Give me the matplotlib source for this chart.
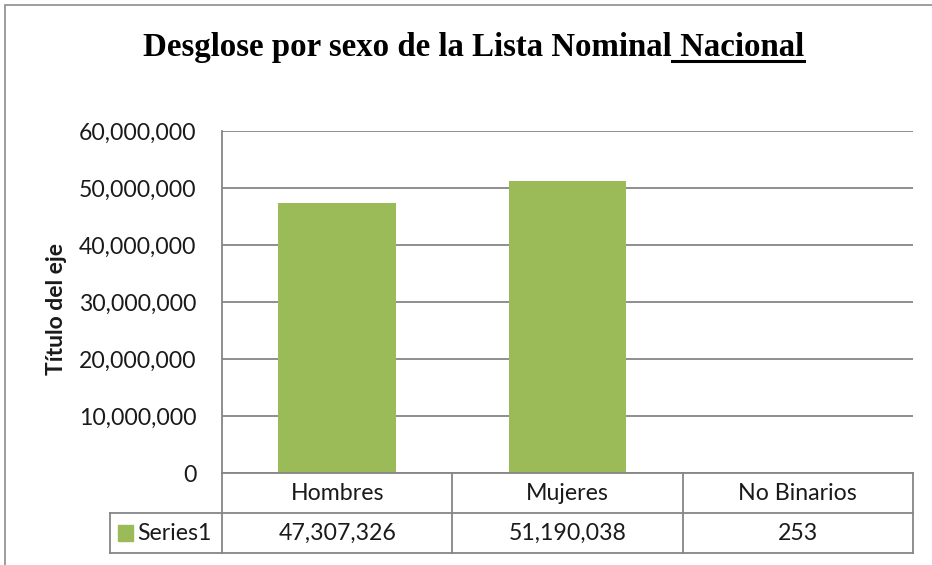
import matplotlib.pyplot as plt
from matplotlib.patches import Rectangle
from matplotlib.ticker import FuncFormatter

categories = ["Hombres", "Mujeres", "No Binarios"]
values = [47307326, 51190038, 253]
series_name = "Series1"
yticks = [0, 10000000, 20000000, 30000000, 40000000, 50000000, 60000000]

green = "#9BBB59"
grid_col = "#868686"
txt_col = "#1a1a1a"
txt_font = ["Lato", "DejaVu Sans"]

W, H = 932, 565
fig = plt.figure(figsize=(W / 100, H / 100), dpi=100)
fig.patch.set_facecolor("white")

# chart border (extends past the right/bottom of the image)
fig.add_artist(Rectangle((5 / W, -0.1), 1.2, 1 - 5 / H + 0.1, transform=fig.transFigure,
                         fill=False, edgecolor="#8c8c8c", linewidth=1.2))

left, right, top, bottom = 222, 913, 131, 473
ax = fig.add_axes([left / W, 1 - bottom / H, (right - left) / W, (bottom - top) / H])

x = list(range(len(categories)))
ax.bar(x, values, width=0.51, color=green, zorder=2)
ax.set_xlim(-0.5, len(categories) - 0.5)
ax.set_ylim(0, 60000000)
ax.set_yticks(yticks)
ax.yaxis.set_major_formatter(FuncFormatter(lambda v, p: f"{int(v):,}"))
ax.tick_params(axis="y", length=0, pad=18.5, labelsize=16.6, labelcolor=txt_col)
for lbl in ax.get_yticklabels():
    lbl.set_family(txt_font)
ax.set_xticks([])
ax.grid(axis="y", color=grid_col, linewidth=1.3, zorder=0)
for s in ["top", "right", "bottom"]:
    ax.spines[s].set_visible(False)
ax.spines["left"].set_color(grid_col)
ax.spines["left"].set_linewidth(1.3)

ax.set_ylabel("Título del eje", fontsize=16.5, fontweight="bold", family=txt_font, color=txt_col)
ax.yaxis.set_label_coords((57 - left) / (right - left), (bottom - 309) / (bottom - top))
ax.yaxis.label.set_va("center")

# data table below the plot
row_h = 40 / (bottom - top)
trans = ax.get_xaxis_transform()
lkw = dict(color=grid_col, linewidth=1.3, clip_on=False, transform=trans)
edges = [i - 0.5 for i in range(len(categories) + 1)]
key_left = edges[0] - (left - 110) / ((right - left) / len(categories))
ax.plot([edges[0], edges[-1]], [0, 0], **lkw)
ax.plot([key_left, edges[-1]], [-row_h, -row_h], **lkw)
ax.plot([key_left, edges[-1]], [-2 * row_h, -2 * row_h], **lkw)
for e in edges:
    ax.plot([e, e], [0, -2 * row_h], **lkw)
ax.plot([key_left, key_left], [-row_h, -2 * row_h], **lkw)

for i, c in enumerate(categories):
    ax.text(i, -row_h / 2, c, transform=trans, ha="center", va="center",
            fontsize=16.7, family=txt_font, color=txt_col)
    ax.text(i, -1.5 * row_h, f"{values[i]:,}", transform=trans, ha="center", va="center",
            fontsize=16.7, family=txt_font, color=txt_col)

ax.add_patch(Rectangle((key_left + 0.036, -1.5 * row_h - 0.022), 0.065, 0.044,
                       transform=trans, color=green, clip_on=False))
ax.text(key_left + 0.12, -1.5 * row_h, series_name, transform=trans, ha="left", va="center",
        fontsize=16.7, family=txt_font, color=txt_col)

# title with underlined last word
tkw = dict(ha="left", va="baseline", fontsize=23.7, fontweight="bold", family="Liberation Serif")
t1 = fig.text(143 / W, 1 - 56 / H, "Desglose por sexo de la Lista Nominal", **tkw)
fig.canvas.draw()
bb = t1.get_window_extent()
t2 = fig.text(bb.x1 / W, 1 - 56 / H, " Nacional", **tkw)
fig.canvas.draw()
bb2 = t2.get_window_extent()
fig.add_artist(plt.Line2D([bb2.x0 / W, bb2.x1 / W], [1 - 60.5 / H, 1 - 60.5 / H],
                          transform=fig.transFigure, color="black", linewidth=2.2))

fig.savefig("out.png", dpi=100)
